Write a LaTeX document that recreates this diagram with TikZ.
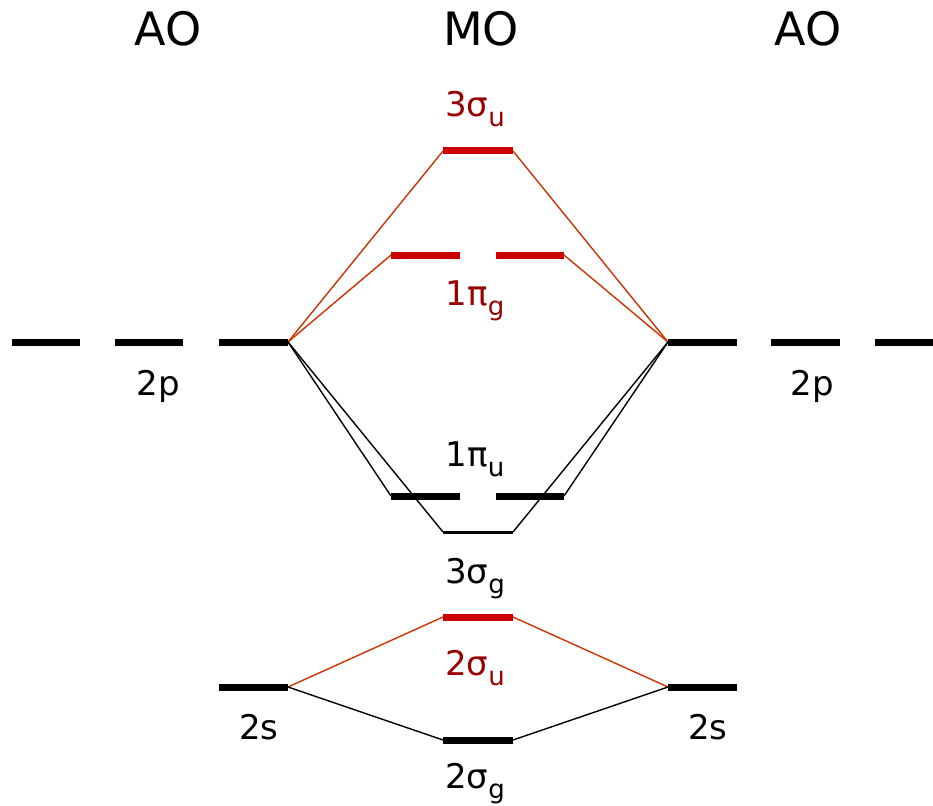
\documentclass[tikz,border=0pt]{standalone}
\usepackage{fontspec}
\setmainfont{DejaVu Sans}
\definecolor{barred}{HTML}{CC0000}
\definecolor{linered}{HTML}{CC3300}
\definecolor{txtred}{HTML}{990000}
\newcommand{\orb}[3]{#1#2\raisebox{-10pt}{\fontsize{26}{26}\selectfont #3}}
\begin{document}
\begin{tikzpicture}[x=1pt,y=-1pt,
  lvl/.style={line width=7pt},
  redlvl/.style={line width=7pt, barred},
  thinlvl/.style={line width=3pt},
  conn/.style={line width=1.4pt},
  redconn/.style={line width=1.4pt, linered},
  lbl/.style={font=\fontsize{34}{36}\selectfont, anchor=base, inner sep=0pt},
  ttl/.style={font=\fontsize{46}{48}\selectfont, anchor=base, inner sep=0pt}]
\useasboundingbox (0,0) rectangle (933,805);
% titles
\node[ttl] (tAOl) at (168,46) {AO};
\node[ttl] (tMO) at (481,46) {MO};
\node[ttl] (tAOr) at (808,46) {AO};
% coordinates
\coordinate (pL1a) at (12,342); \coordinate (pL1b) at (80,342);
\coordinate (pL2a) at (115,342); \coordinate (pL2b) at (183,342);
\coordinate (pL3a) at (219,342); \coordinate (pL3b) at (288,342);
\coordinate (pR1a) at (668,342); \coordinate (pR1b) at (737,342);
\coordinate (pR2a) at (771,342); \coordinate (pR2b) at (840,342);
\coordinate (pR3a) at (875,342); \coordinate (pR3b) at (933,342);
\coordinate (su3a) at (443,151); \coordinate (su3b) at (513,151);
\coordinate (pg1a) at (391,255); \coordinate (pg1b) at (460,255);
\coordinate (pg2a) at (496,255); \coordinate (pg2b) at (564,255);
\coordinate (pu1a) at (391,496); \coordinate (pu1b) at (460,496);
\coordinate (pu2a) at (496,496); \coordinate (pu2b) at (564,496);
\coordinate (sg3a) at (443,532); \coordinate (sg3b) at (513,532);
\coordinate (su2a) at (443,617); \coordinate (su2b) at (513,617);
\coordinate (sg2a) at (443,740); \coordinate (sg2b) at (513,740);
\coordinate (sLa) at (219,687); \coordinate (sLb) at (288,687);
\coordinate (sRa) at (668,687); \coordinate (sRb) at (737,687);
% connectors
\draw[redconn] (pL3b) -- (su3a);
\draw[redconn] (pL3b) -- (pg1a);
\draw[redconn] (su3b) -- (pR1a);
\draw[redconn] (pg2b) -- (pR1a);
\draw[conn] (pL3b) -- (pu1a);
\draw[conn] (pL3b) -- (sg3a);
\draw[conn] (sg3b) -- (pR1a);
\draw[conn] (pu2b) -- (pR1a);
\draw[redconn] (sLb) -- (su2a);
\draw[redconn] (su2b) -- (sRa);
\draw[conn] (sLb) -- (sg2a);
\draw[conn] (sg2b) -- (sRa);
% levels
\foreach \a/\b in {pL1a/pL1b,pL2a/pL2b,pL3a/pL3b,pR1a/pR1b,pR2a/pR2b,pR3a/pR3b,pu1a/pu1b,pu2a/pu2b,sg2a/sg2b,sLa/sLb,sRa/sRb}
  \draw[lvl] (\a) -- (\b);
\foreach \a/\b in {su3a/su3b,pg1a/pg1b,pg2a/pg2b,su2a/su2b}
  \draw[redlvl] (\a) -- (\b);
\draw[thinlvl] (sg3a) -- (sg3b);
% labels
\node[lbl, txtred] (l3su) at (475,117) {\orb{3}{σ}{u}};
\node[lbl, txtred] (l1pg) at (475,305) {\orb{1}{π}{g}};
\node[lbl] (l2pL) at (158,395) {2p};
\node[lbl] (l2pR) at (812,395) {2p};
\node[lbl] (l1pu) at (475,466) {\orb{1}{π}{u}};
\node[lbl] (l3sg) at (475,583) {\orb{3}{σ}{g}};
\node[lbl, txtred] (l2su) at (475,675) {\orb{2}{σ}{u}};
\node[lbl] (l2sL) at (259,739) {2s};
\node[lbl] (l2sR) at (708,739) {2s};
\node[lbl] (l2sg) at (475,788) {\orb{2}{σ}{g}};
\end{tikzpicture}
\end{document}
